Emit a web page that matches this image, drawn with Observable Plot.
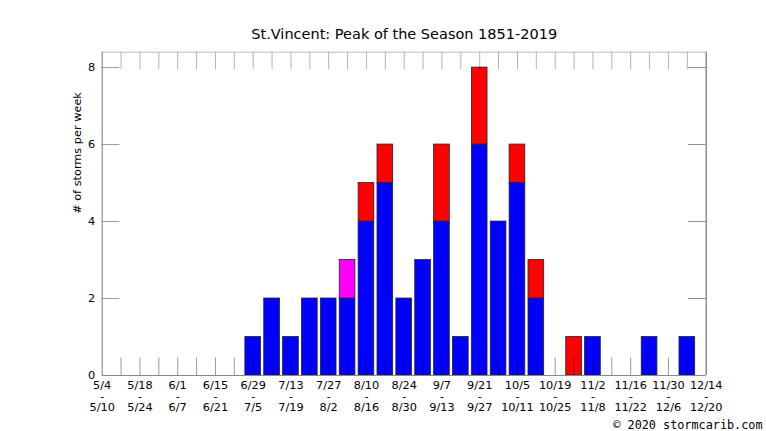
<!DOCTYPE html>
<html><head><meta charset="utf-8">
<script src="https://cdn.jsdelivr.net/npm/d3@7"></script>
<script src="https://cdn.jsdelivr.net/npm/@observablehq/plot@0.6"></script>
<style>body{margin:0;background:#fff} svg{display:block}</style>
</head><body><div id="chart"></div>
<script>
// Week start dates (one bar per week)
const weeks = ["5/4","5/11","5/18","5/25","6/1","6/8","6/15","6/22","6/29","7/6","7/13","7/20","7/27","8/3","8/10","8/17","8/24","8/31","9/7","9/14","9/21","9/28","10/5","10/12","10/19","10/26","11/2","11/9","11/16","11/23","11/30","12/7","12/14"];
// Storm counts per week, stacked bottom to top: blue, magenta, red
const blue    = [0,0,0,0,0,0,0,0, 1,2,1,2,2,2,4,5,2,3,4,1,6,4,5,2, 0,0,1,0,0,1,0,1,0];
const magenta = [0,0,0,0,0,0,0,0, 0,0,0,0,0,1,0,0,0,0,0,0,0,0,0,0, 0,0,0,0,0,0,0,0,0];
const red     = [0,0,0,0,0,0,0,0, 0,0,0,0,0,0,1,1,0,0,2,0,2,0,1,1, 0,1,0,0,0,0,0,0,0];
// Tick labels (every two weeks)
const labelStarts = ["5/4","5/18","6/1","6/15","6/29","7/13","7/27","8/10","8/24","9/7","9/21","10/5","10/19","11/2","11/16","11/30","12/14"];
const labelEnds   = ["5/10","5/24","6/7","6/21","7/5","7/19","8/2","8/16","8/30","9/13","9/27","10/11","10/25","11/8","11/22","12/6","12/20"];
const yTicks = [0,2,4,6,8];
const title = "St.Vincent: Peak of the Season 1851-2019";
const yLabel = "# of storms per week";
const credit = "© 2020 stormcarib.com";

const series = [
  {values: blue, color: "#0000ff"},
  {values: magenta, color: "#ff00ff"},
  {values: red, color: "#ff0000"}
];
const rows = [];
weeks.forEach((w, i) => {
  let base = 0;
  for (const s of series) {
    const v = s.values[i];
    if (v > 0) rows.push({i, week: w, y1: base, y2: base + v, color: s.color});
    base += v;
  }
});
const labels = labelStarts.map((s, k) => ({i: weeks.indexOf(s), t: s + "\n-\n" + labelEnds[k]}));
const inner = weeks.map((w, i) => i).slice(1, -1);

const W = 766, H = 431;
const mL = 101.7, mR = 60.3, mT = 51.7, mB = 56;
const fw = W - mL - mR;
const fh = H - mT - mB;
const fs = 11.3;

const chart = Plot.plot({
  width: W, height: H,
  marginLeft: mL, marginRight: mR, marginTop: mT, marginBottom: mB,
  x: {domain: [0, weeks.length - 1], axis: null},
  y: {domain: [0, 8.4], axis: null},
  color: {type: "identity"},
  style: {fontFamily: "DejaVu Sans", background: "white", color: "black", overflow: "visible"},
  marks: [
    Plot.rectY(rows, {x1: d => d.i - 0.415, x2: d => d.i + 0.415, y1: "y1", y2: "y2", fill: "color", stroke: "#222", strokeWidth: 0.8}),
    // inward ticks
    Plot.ruleX(inner, {x: d => d, insetTop: fh - 17.5, stroke: "#000", strokeOpacity: 0.4}),
    Plot.ruleX(inner, {x: d => d, insetBottom: fh - 17.5, stroke: "#000", strokeOpacity: 0.3}),
    Plot.ruleY(yTicks.slice(1), {y: d => d, insetRight: fw - 17.7, stroke: "#000", strokeOpacity: 0.4}),
    Plot.ruleY(yTicks.slice(1), {y: d => d, insetLeft: fw - 17.7, stroke: "#000", strokeOpacity: 0.45}),
    // frame
    Plot.ruleY([0], {stroke: "#888"}),
    Plot.ruleY([8.4], {stroke: "#bbb"}),
    Plot.ruleX([0], {stroke: "#777"}),
    Plot.ruleX([weeks.length - 1], {stroke: "#555"}),
    // labels
    Plot.text(labels, {x: "i", text: "t", frameAnchor: "bottom", lineAnchor: "top", dy: 5, lineHeight: 1.0, fontSize: fs}),
    Plot.text(yTicks, {y: d => d, text: d => String(d), frameAnchor: "left", textAnchor: "end", dx: -7, fontSize: fs}),
    Plot.text([yLabel], {frameAnchor: "left", rotate: -90, dx: -25, fontSize: fs}),
    Plot.text([title], {frameAnchor: "top", lineAnchor: "bottom", dy: -13, fontSize: 14.5}),
    Plot.text([credit], {frameAnchor: "bottom-right", textAnchor: "end", lineAnchor: "bottom", dx: 56.3, dy: 53.3, fontFamily: "DejaVu Sans Mono", fontSize: 11.8})
  ]
});
document.getElementById("chart").appendChild(chart);
</script>
</body></html>
